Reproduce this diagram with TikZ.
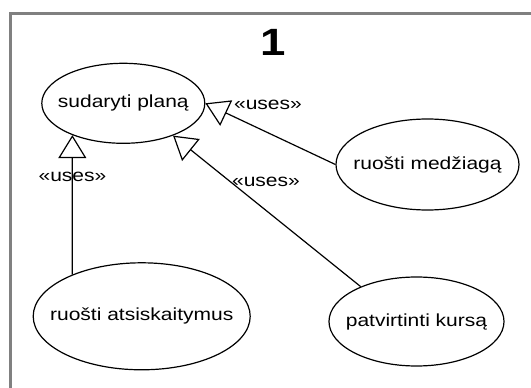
\documentclass[tikz,border=0pt]{standalone}
\usepackage{fontspec}
\setmainfont{Liberation Sans}[FakeStretch=1.2]
\usepackage{xcolor}
\usetikzlibrary{arrows.meta, shapes.geometric}

\definecolor{framegray}{RGB}{128,128,128}

\begin{document}
\begin{tikzpicture}[x=1pt, y=-1pt, >={Triangle[open, length=23pt, width=28pt]},
    every node/.style={font=\fontsize{17.5}{21}\selectfont},
    usecase/.style={draw, ellipse, inner sep=0pt, line width=1.2pt}]
    \useasboundingbox (0,0) rectangle (531,388);

    % Frame and title
    \draw[framegray, line width=3.5pt] (10.5,400) |- (545,13.5);
    \node[font=\fontsize{38}{40}\selectfont\bfseries] (title) at (273.5,42) {1};

    % Use cases
    \node[usecase, minimum width=163pt, minimum height=80pt, label={center:sudaryti planą}] (plan) at (123.3,103.3) {};
    \node[usecase, minimum width=183pt, minimum height=91pt, label={center:ruošti medžiagą}] (medz) at (427.5,164.5) {};
    \node[usecase, minimum width=217pt, minimum height=107pt, label={center:ruošti atsiskaitymus}] (atsk) at (141.7,316.3) {};
    \node[usecase, minimum width=175pt, minimum height=89pt, label={center:patvirtinti kursą}] (patv) at (416.5,321.5) {};

    % Uses relations
    \draw[->, line width=1.2pt] (medz.west) -- (plan.east);
    \draw[->, line width=1.2pt] (atsk.149) -- (plan.212);
    \draw[->, line width=1.2pt] (patv.148) -- (plan.327);
    \node (usesR) at (268,105) {«uses»};
    \node (usesL) at (72.5,176.5) {«uses»};
    \node (usesM) at (266,182) {«uses»};
\end{tikzpicture}
\end{document}
